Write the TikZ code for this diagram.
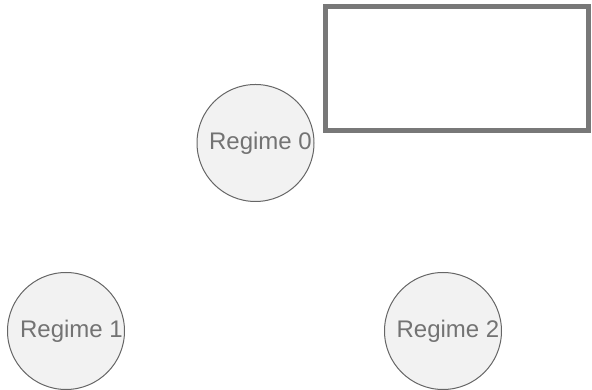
\documentclass[tikz,border=0pt]{standalone}
\usepackage{fontspec}
\setmainfont{Liberation Sans}
\begin{document}
\begin{tikzpicture}[x=1pt,y=1pt,
  regime/.style={circle,draw=black!60,line width=1pt,fill=black!5,minimum size=117pt,inner sep=0pt,
    text=black!55,font=\fontsize{24}{28}\selectfont},
  box/.style={draw=black!53,line width=5pt}]
\useasboundingbox (0,0) rectangle (592,390);
\node[regime] (r0) at (255.5,247) {\hspace{10pt}Regime 0};
\node[regime] (r1) at (66,59) {\hspace{11pt}Regime 1};
\node[regime] (r2) at (443,59) {\hspace{10pt}Regime 2};
\draw[box] (325.5,383.5) rectangle (588.5,259.5);
\end{tikzpicture}
\end{document}
